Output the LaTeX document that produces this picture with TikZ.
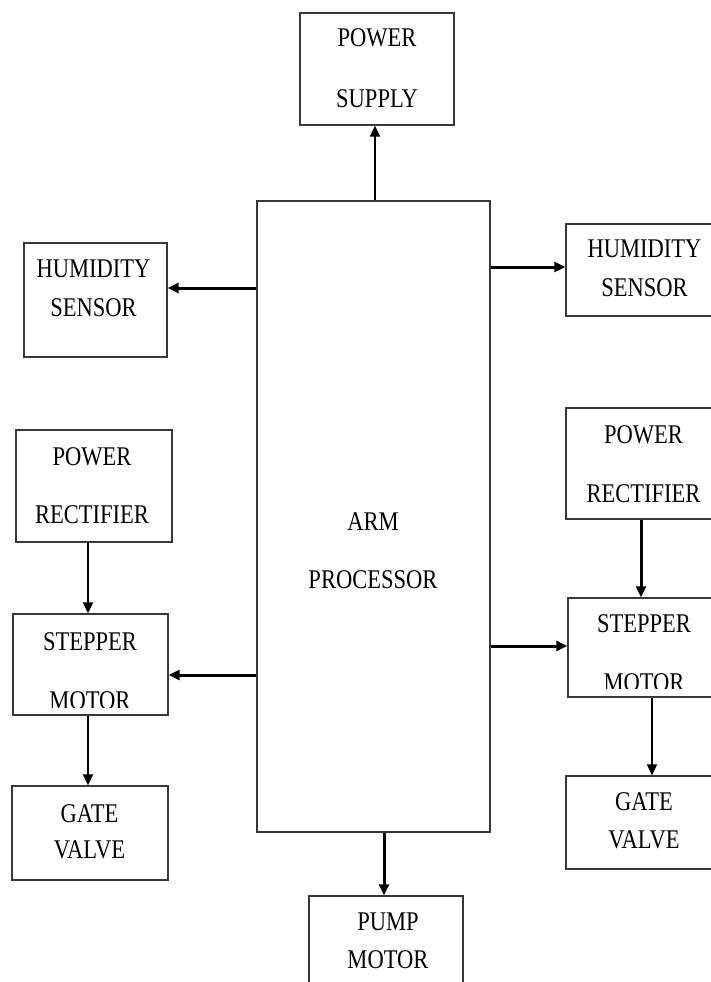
\documentclass[tikz,border=0pt]{standalone}
\usepackage{fontspec}
\setmainfont{Liberation Serif}[FakeStretch=0.835]
\usetikzlibrary{arrows.meta,calc}
\begin{document}
\begin{tikzpicture}[x=1pt,y=-1pt,
  blk/.style={draw=black!78,line width=1.3pt,inner sep=0pt,fill=none},
  txt/.style={anchor=base,inner sep=0pt,font=\fontsize{27}{27}\selectfont},
  thinarr/.style={draw=black,line width=1.8pt,-{Triangle[length=11pt,width=10pt]}},
  thickarr/.style={draw=black,line width=3pt,-{Triangle[length=11pt,width=10pt]}}]
\useasboundingbox (0,0) rectangle (711,982);
\clip (0,0) rectangle (711,982);
\fill[white] (0,0) rectangle (711,982);
% boxes
\node[blk,minimum width=154pt,minimum height=112pt] (ps) at (377,69) {};
\node[blk,minimum width=233pt,minimum height=631pt] (arm) at (373.5,516.5) {};
\node[blk,minimum width=143pt,minimum height=114pt] (hl) at (95.5,300) {};
\node[blk,minimum width=156pt,minimum height=92pt] (hr) at (644,270) {};
\node[blk,minimum width=156pt,minimum height=112pt] (rl) at (94,486) {};
\node[blk,minimum width=155pt,minimum height=101pt] (sl) at (90.5,664.5) {};
\node[blk,minimum width=156pt,minimum height=94pt] (gl) at (90,833) {};
\node[blk,minimum width=155pt,minimum height=111pt] (rr) at (643.5,463.5) {};
\node[blk,minimum width=152pt,minimum height=99pt] (sr) at (644,647.5) {};
\node[blk,minimum width=156pt,minimum height=93pt] (gr) at (644,822.5) {};
\node[blk,minimum width=154pt,minimum height=110pt] (pm) at (386,951) {};
% texts
\node[txt] (psa) at (377,47) {POWER};
\node[txt] (psb) at (377,107) {SUPPLY};
\node[txt] (arma) at (373,530) {ARM};
\node[txt] (armb) at (373,588) {PROCESSOR};
\node[txt] (hla) at (93.5,277) {HUMIDITY};
\node[txt] (hlb) at (93.5,316) {SENSOR};
\node[txt] (hra) at (644.5,257) {HUMIDITY};
\node[txt] (hrb) at (644.5,296) {SENSOR};
\node[txt] (rla) at (92,465) {POWER};
\node[txt] (rlb) at (92,523) {RECTIFIER};
\node[txt] (sla) at (90,650) {STEPPER};
\begin{scope}
\clip ($(sl.north west)$) rectangle ($(sl.south east)+(0,-8)$);
\node[txt] (slb) at (90,709) {MOTOR};
\end{scope}
\node[txt] (gla) at (89.5,822) {GATE};
\node[txt] (glb) at (89.5,858) {VALVE};
\node[txt] (rra) at (643.5,443) {POWER};
\node[txt] (rrb) at (643.5,502) {RECTIFIER};
\node[txt] (sra) at (644,632) {STEPPER};
\begin{scope}
\clip ($(sr.north west)$) rectangle ($(sr.south east)+(0,-9)$);
\node[txt] (srb) at (644,691) {MOTOR};
\end{scope}
\node[txt] (gra) at (644,810) {GATE};
\node[txt] (grb) at (644,848) {VALVE};
\node[txt] (pma) at (388,930) {PUMP};
\node[txt] (pmb) at (388,968) {MOTOR};
% connectors
\draw[thinarr] (arm.north -| 375,0) -- (ps.south -| 375,0);
\draw[thickarr] (arm.west |- 0,288) -- (hl.east |- 0,288);
\draw[thickarr] (arm.east |- 0,267) -- (hr.west |- 0,267);
\draw[thinarr] (rl.south -| 88,0) -- (sl.north -| 88,0);
\draw[thickarr] (arm.west |- 0,675) -- (sl.east |- 0,675);
\draw[thinarr] (sl.south -| 88,0) -- (gl.north -| 88,0);
\draw[thickarr] (rr.south -| 641,0) -- (sr.north -| 641,0);
\draw[thickarr] (arm.east |- 0,646) -- (sr.west |- 0,646);
\draw[thinarr] (sr.south -| 652,0) -- (gr.north -| 652,0);
\draw[thickarr] (arm.south -| 384,0) -- (pm.north -| 384,0);
\end{tikzpicture}
\end{document}
